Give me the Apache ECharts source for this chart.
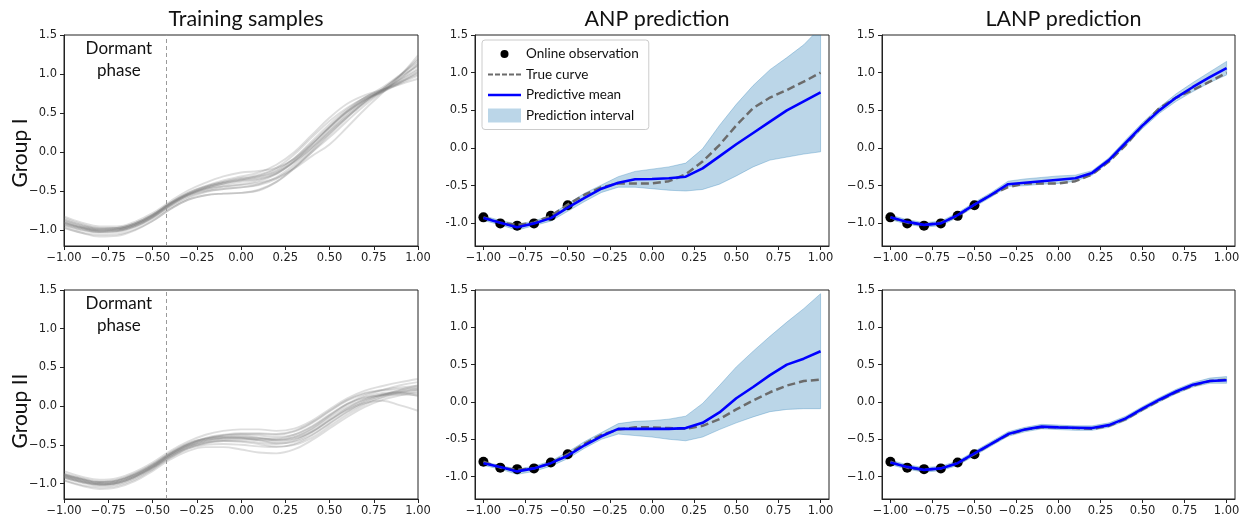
<!DOCTYPE html>
<html>
<head>
<meta charset="utf-8">
<script src="https://cdn.jsdelivr.net/npm/echarts@6/dist/echarts.min.js"></script>
<style>
  html, body { margin: 0; padding: 0; background: #ffffff; }
  #chart { width: 1250px; height: 525px; }
</style>
</head>
<body>
<div id="chart"></div>
<script>
// ---- shared x grid (step 0.1 over [-1, 1]) ----
const xGrid = [-1.0, -0.9, -0.8, -0.7, -0.6, -0.5, -0.4, -0.3, -0.2, -0.1, 0.0,
                0.1, 0.2, 0.3, 0.4, 0.5, 0.6, 0.7, 0.8, 0.9, 1.0];

// ---- tick labels ----
const xTicks = [-1.0, -0.75, -0.5, -0.25, 0.0, 0.25, 0.5, 0.75, 1.0];
const yTicks = [-1.0, -0.5, 0.0, 0.5, 1.0, 1.5];
const columnTitles = ['Training samples', 'ANP prediction', 'LANP prediction'];
const rowLabels = ['Group I', 'Group II'];
const dormantX = -0.42;

// ---- training sample curves, Group I ----
const trainG1 = [
  [-0.84,-0.92,-0.97,-0.97,-0.91,-0.80,-0.65,-0.52,-0.44,-0.38,-0.34,-0.31,-0.24,-0.08,0.14,0.36,0.55,0.70,0.80,0.90,1.00],
  [-0.92,-0.98,-1.02,-1.01,-0.95,-0.84,-0.69,-0.57,-0.50,-0.47,-0.45,-0.41,-0.32,-0.16,0.04,0.25,0.45,0.63,0.78,0.94,1.12],
  [-0.82,-0.90,-0.95,-0.95,-0.89,-0.78,-0.63,-0.49,-0.39,-0.31,-0.26,-0.24,-0.20,-0.09,0.10,0.32,0.52,0.67,0.77,0.88,0.98],
  [-0.96,-1.03,-1.08,-1.07,-1.00,-0.88,-0.73,-0.61,-0.55,-0.53,-0.52,-0.48,-0.38,-0.21,0.00,0.22,0.44,0.64,0.80,0.98,1.18],
  [-0.90,-0.97,-1.00,-0.99,-0.93,-0.82,-0.67,-0.55,-0.46,-0.40,-0.36,-0.32,-0.25,-0.12,0.06,0.27,0.47,0.65,0.79,0.93,1.07],
  [-0.87,-0.94,-0.98,-0.97,-0.91,-0.80,-0.65,-0.52,-0.43,-0.36,-0.31,-0.26,-0.16,0.00,0.22,0.44,0.62,0.73,0.80,0.87,0.94],
  [-0.93,-0.99,-1.02,-1.01,-0.95,-0.83,-0.68,-0.56,-0.49,-0.44,-0.41,-0.37,-0.28,-0.12,0.09,0.31,0.51,0.67,0.79,0.95,1.13],
  [-0.88,-0.95,-0.99,-0.98,-0.92,-0.81,-0.66,-0.54,-0.47,-0.44,-0.42,-0.39,-0.33,-0.21,-0.05,0.10,0.32,0.55,0.76,0.98,1.24],
  [-0.91,-0.97,-1.01,-1.00,-0.94,-0.83,-0.68,-0.55,-0.47,-0.42,-0.38,-0.35,-0.27,-0.11,0.10,0.32,0.52,0.68,0.78,0.89,1.02],
  [-0.97,-1.03,-1.06,-1.05,-0.99,-0.88,-0.73,-0.61,-0.55,-0.53,-0.52,-0.49,-0.38,-0.20,0.02,0.24,0.45,0.65,0.81,0.99,1.20],
  [-0.86,-0.93,-0.98,-0.97,-0.91,-0.80,-0.65,-0.53,-0.44,-0.38,-0.33,-0.29,-0.20,-0.03,0.19,0.40,0.57,0.70,0.79,0.92,1.05],
  [-0.90,-0.96,-1.00,-0.99,-0.93,-0.82,-0.67,-0.54,-0.45,-0.39,-0.35,-0.30,-0.22,-0.08,0.12,0.33,0.53,0.70,0.83,0.99,1.15],
  [-0.94,-1.00,-1.03,-1.02,-0.96,-0.85,-0.71,-0.59,-0.51,-0.47,-0.45,-0.42,-0.34,-0.19,0.00,0.19,0.40,0.60,0.77,0.90,1.03],
  [-0.89,-0.96,-1.00,-0.99,-0.93,-0.81,-0.66,-0.54,-0.46,-0.40,-0.36,-0.34,-0.27,-0.13,0.06,0.28,0.49,0.67,0.81,0.97,1.10]
];

// ---- training sample curves, Group II ----
const trainG2 = [
  [-0.88,-0.94,-0.98,-0.96,-0.88,-0.76,-0.61,-0.49,-0.41,-0.37,-0.35,-0.35,-0.36,-0.32,-0.21,-0.06,0.08,0.17,0.21,0.24,0.26],
  [-0.92,-0.98,-1.02,-1.00,-0.92,-0.80,-0.66,-0.55,-0.50,-0.49,-0.50,-0.52,-0.53,-0.49,-0.38,-0.23,-0.08,0.04,0.12,0.18,0.21],
  [-0.84,-0.91,-0.95,-0.93,-0.85,-0.73,-0.58,-0.46,-0.37,-0.32,-0.30,-0.30,-0.32,-0.29,-0.19,-0.04,0.10,0.20,0.26,0.31,0.35],
  [-0.96,-1.03,-1.07,-1.05,-0.97,-0.84,-0.69,-0.58,-0.53,-0.53,-0.56,-0.60,-0.61,-0.56,-0.44,-0.29,-0.14,-0.01,0.08,0.14,0.18],
  [-0.90,-0.96,-1.00,-0.98,-0.90,-0.78,-0.63,-0.51,-0.44,-0.41,-0.40,-0.41,-0.43,-0.40,-0.30,-0.15,-0.01,0.09,0.15,0.20,0.23],
  [-0.89,-0.95,-0.99,-0.97,-0.89,-0.77,-0.62,-0.50,-0.43,-0.40,-0.39,-0.41,-0.44,-0.42,-0.33,-0.18,-0.03,0.09,0.15,0.17,0.13],
  [-0.93,-0.99,-1.03,-1.01,-0.93,-0.81,-0.66,-0.54,-0.47,-0.44,-0.43,-0.43,-0.44,-0.40,-0.29,-0.13,0.02,0.12,0.17,0.18,0.16],
  [-0.87,-0.93,-0.97,-0.95,-0.87,-0.75,-0.60,-0.48,-0.42,-0.40,-0.41,-0.44,-0.48,-0.46,-0.37,-0.22,-0.07,0.06,0.14,0.21,0.27],
  [-0.91,-0.97,-1.01,-0.99,-0.91,-0.79,-0.64,-0.52,-0.45,-0.42,-0.41,-0.42,-0.42,-0.37,-0.26,-0.11,0.03,0.11,0.14,0.15,0.14],
  [-0.96,-1.02,-1.05,-1.03,-0.95,-0.82,-0.67,-0.55,-0.48,-0.45,-0.45,-0.47,-0.49,-0.45,-0.34,-0.19,-0.05,0.04,0.07,0.01,-0.06],
  [-0.88,-0.94,-0.98,-0.96,-0.88,-0.76,-0.61,-0.49,-0.42,-0.38,-0.37,-0.38,-0.40,-0.37,-0.27,-0.12,0.03,0.14,0.21,0.27,0.31],
  [-0.90,-0.97,-1.01,-0.99,-0.91,-0.79,-0.64,-0.52,-0.45,-0.42,-0.42,-0.44,-0.46,-0.43,-0.33,-0.18,-0.04,0.07,0.14,0.19,0.22],
  [-0.92,-0.98,-1.01,-0.99,-0.91,-0.79,-0.64,-0.53,-0.47,-0.45,-0.46,-0.49,-0.52,-0.50,-0.41,-0.26,-0.11,0.02,0.11,0.17,0.20],
  [-0.89,-0.95,-0.99,-0.97,-0.89,-0.77,-0.62,-0.50,-0.42,-0.38,-0.36,-0.36,-0.37,-0.33,-0.22,-0.07,0.07,0.16,0.20,0.22,0.24]
];

// ---- online observations ----
const obsX = [-1.0, -0.9, -0.8, -0.7, -0.6, -0.5];
const obsG1 = [-0.92, -1.00, -1.03, -1.00, -0.90, -0.76];
const obsG2 = [-0.80, -0.88, -0.90, -0.89, -0.81, -0.70];

// ---- true curves ----
const trueG1 = [-0.92,-0.99,-1.02,-0.99,-0.90,-0.75,-0.62,-0.52,-0.47,-0.47,-0.47,-0.44,-0.35,-0.18,0.04,0.30,0.53,0.67,0.77,0.88,1.00];
const trueG2 = [-0.80,-0.88,-0.91,-0.89,-0.82,-0.70,-0.56,-0.44,-0.37,-0.34,-0.34,-0.35,-0.36,-0.32,-0.23,-0.10,0.02,0.13,0.22,0.28,0.30];

// ---- ANP predictions ----
const anpMeanG1  = [-0.93,-0.99,-1.05,-1.00,-0.93,-0.79,-0.66,-0.54,-0.46,-0.415,-0.41,-0.40,-0.38,-0.27,-0.11,0.05,0.20,0.35,0.50,0.62,0.74];
const anpUpperG1 = [-0.90,-0.96,-1.01,-0.97,-0.89,-0.74,-0.60,-0.49,-0.38,-0.31,-0.28,-0.25,-0.20,-0.01,0.30,0.58,0.83,1.04,1.20,1.37,1.60];
const anpLowerG1 = [-0.96,-1.02,-1.09,-1.03,-0.97,-0.84,-0.71,-0.59,-0.52,-0.52,-0.54,-0.56,-0.57,-0.55,-0.48,-0.37,-0.25,-0.16,-0.12,-0.08,-0.05];

const anpMeanG2  = [-0.82,-0.87,-0.93,-0.89,-0.82,-0.72,-0.58,-0.46,-0.36,-0.36,-0.36,-0.36,-0.35,-0.28,-0.14,0.05,0.20,0.36,0.50,0.58,0.68];
const anpUpperG2 = [-0.80,-0.85,-0.90,-0.86,-0.79,-0.67,-0.53,-0.41,-0.29,-0.26,-0.25,-0.23,-0.19,-0.02,0.22,0.47,0.68,0.88,1.07,1.25,1.45];
const anpLowerG2 = [-0.85,-0.90,-0.97,-0.93,-0.86,-0.76,-0.62,-0.50,-0.43,-0.45,-0.47,-0.50,-0.52,-0.47,-0.37,-0.28,-0.20,-0.13,-0.10,-0.09,-0.09];

// ---- LANP predictions ----
const lanpMeanG1  = [-0.92,-0.98,-1.02,-1.00,-0.89,-0.75,-0.62,-0.48,-0.46,-0.44,-0.42,-0.40,-0.33,-0.16,0.07,0.30,0.50,0.67,0.81,0.94,1.06];
const lanpUpperG1 = [-0.89,-0.95,-0.99,-0.97,-0.86,-0.72,-0.59,-0.44,-0.41,-0.39,-0.37,-0.36,-0.30,-0.13,0.11,0.34,0.54,0.72,0.87,1.01,1.15];
const lanpLowerG1 = [-0.95,-1.01,-1.05,-1.03,-0.92,-0.78,-0.65,-0.51,-0.50,-0.48,-0.47,-0.44,-0.36,-0.19,0.03,0.26,0.46,0.62,0.75,0.87,0.97];

const lanpMeanG2  = [-0.81,-0.87,-0.91,-0.89,-0.82,-0.69,-0.56,-0.43,-0.37,-0.33,-0.34,-0.345,-0.35,-0.31,-0.22,-0.09,0.03,0.14,0.23,0.28,0.29];
const lanpUpperG2 = [-0.78,-0.84,-0.88,-0.86,-0.79,-0.66,-0.53,-0.40,-0.34,-0.30,-0.31,-0.32,-0.32,-0.28,-0.19,-0.06,0.06,0.17,0.26,0.32,0.34];
const lanpLowerG2 = [-0.84,-0.90,-0.94,-0.92,-0.85,-0.72,-0.59,-0.46,-0.40,-0.36,-0.37,-0.38,-0.38,-0.34,-0.25,-0.12,0.00,0.11,0.20,0.25,0.25];

// ---- styling ----
const SANS = 'Lato, "Open Sans", sans-serif';
const TICK_FONT = '"DejaVu Sans", sans-serif';
const INK = '#222222';
const BAND = 'rgba(31,119,180,0.30)';
const TRUE_GREY = '#6b6b6b';
const MEAN_BLUE = '#0000ff';

const pairs = (xs, ys) => xs.map((x, i) => [x, ys[i]]);
const minusSign = s => s.replace('-', '\u2212');

const grids = [
  { left: 64,  top: 35,  width: 354, height: 211 },
  { left: 475, top: 35,  width: 354, height: 211 },
  { left: 882, top: 35,  width: 353, height: 211 },
  { left: 64,  top: 290, width: 354, height: 209 },
  { left: 475, top: 290, width: 354, height: 209 },
  { left: 882, top: 290, width: 353, height: 209 }
].map(g => Object.assign({ show: true, borderColor: INK, borderWidth: 1, backgroundColor: 'transparent' }, g));

function makeXAxis(i) {
  const training = i % 3 === 0;
  return {
    type: 'value', gridIndex: i,
    min: training ? -1 : -1.05, max: training ? 1 : 1.05,
    splitLine: { show: false },
    axisLine: { show: true, onZero: false, lineStyle: { color: INK, width: 1 } },
    axisTick: { show: true, length: 4, customValues: xTicks, lineStyle: { color: INK } },
    axisLabel: {
      customValues: xTicks, margin: 6, fontSize: 11.5, color: INK, fontFamily: TICK_FONT,
      formatter: v => minusSign(v.toFixed(2))
    }
  };
}

function makeYAxis(i) {
  const training = i % 3 === 0;
  const anp = i % 3 === 1;
  return {
    type: 'value', gridIndex: i,
    min: training ? -1.2 : -1.3, max: 1.5,
    splitLine: { show: false },
    axisLine: { show: true, onZero: false, lineStyle: { color: INK, width: 1 } },
    axisTick: { show: true, length: 4, customValues: yTicks, lineStyle: { color: INK } },
    axisLabel: {
      customValues: yTicks, margin: 7, fontSize: 11.5, color: INK, fontFamily: TICK_FONT,
      formatter: v => anp ? v.toFixed(1) : minusSign(v.toFixed(1))
    }
  };
}

const series = [];

function addTraining(gi, curves) {
  curves.forEach((c, k) => {
    const s = {
      type: 'line', xAxisIndex: gi, yAxisIndex: gi, silent: true,
      data: pairs(xGrid, c), smooth: 0.4, showSymbol: false, symbol: 'none',
      lineStyle: { color: 'rgba(115,115,115,0.24)', width: 1.9 },
      z: 2
    };
    if (k === 0) {
      s.markLine = {
        silent: true, symbol: 'none', animation: false,
        label: { show: false },
        lineStyle: { type: [4, 3], color: '#9a9a9a', width: 1 },
        data: [{ xAxis: dormantX }]
      };
      s.markPoint = {
        silent: true, symbol: 'circle', symbolSize: 0,
        label: {
          show: true, position: 'inside', formatter: 'Dormant\nphase',
          fontFamily: SANS, fontSize: 17, lineHeight: 22, color: '#111'
        },
        data: [{ coord: [-0.69, 1.18] }]
      };
    }
    series.push(s);
  });
}

// shaded interval between lower and upper, drawn as one clipped polygon
function bandSeries(gi, upper, lower) {
  return {
    type: 'custom', name: 'Prediction interval', xAxisIndex: gi, yAxisIndex: gi, silent: true,
    clip: true, z: 1,
    itemStyle: { color: BAND },
    data: xGrid.map((x, i) => [x, lower[i], upper[i]]),
    encode: { x: 0, y: [1, 2] },
    renderItem: (params, api) => {
      if (params.dataIndex !== 0) return null;
      const top = xGrid.map((x, i) => api.coord([x, upper[i]]));
      const bottom = xGrid.map((x, i) => api.coord([x, lower[i]])).reverse();
      const cs = params.coordSys;
      return {
        type: 'polygon',
        shape: { points: top.concat(bottom) },
        style: { fill: BAND, stroke: BAND, lineWidth: 1 },
        clipPath: { type: 'rect', shape: { x: cs.x, y: cs.y, width: cs.width, height: cs.height } }
      };
    }
  };
}

function addPrediction(gi, obs, truth, mean, upper, lower) {
  series.push(bandSeries(gi, upper, lower));
  series.push({
    type: 'scatter', name: 'Online observation', xAxisIndex: gi, yAxisIndex: gi, silent: true,
    data: pairs(obsX, obs), symbolSize: 10, itemStyle: { color: '#000000', opacity: 1 }, z: 2
  });
  series.push({
    type: 'line', name: 'True curve', xAxisIndex: gi, yAxisIndex: gi, silent: true,
    data: pairs(xGrid, truth), symbol: 'none',
    lineStyle: { color: TRUE_GREY, width: 2.5, type: [8, 4] }, itemStyle: { color: TRUE_GREY }, z: 3
  });
  series.push({
    type: 'line', name: 'Predictive mean', xAxisIndex: gi, yAxisIndex: gi, silent: true,
    data: pairs(xGrid, mean), symbol: 'none',
    lineStyle: { color: MEAN_BLUE, width: 2.6 }, itemStyle: { color: MEAN_BLUE }, z: 4
  });
}

addTraining(0, trainG1);
addPrediction(1, obsG1, trueG1, anpMeanG1, anpUpperG1, anpLowerG1);
addPrediction(2, obsG1, trueG1, lanpMeanG1, lanpUpperG1, lanpLowerG1);
addTraining(3, trainG2);
addPrediction(4, obsG2, trueG2, anpMeanG2, anpUpperG2, anpLowerG2);
addPrediction(5, obsG2, trueG2, lanpMeanG2, lanpUpperG2, lanpLowerG2);

// legend icons drawn in a 33 x 14 box (corner points fix the box size)
const BOX = 'M0,0L0,0M33,14L33,14';
const ICON_DOT = 'path://' + BOX + 'M12.5,7A4,4,0,1,1,20.5,7A4,4,0,1,1,12.5,7Z';
const ICON_DASH = 'path://' + BOX +
  'M0,6L5,6L5,8L0,8ZM7,6L12,6L12,8L7,8ZM14,6L19,6L19,8L14,8ZM21,6L26,6L26,8L21,8ZM28,6L33,6L33,8L28,8Z';
const ICON_SOLID = 'path://' + BOX + 'M0,5.75L33,5.75L33,8.25L0,8.25Z';

const option = {
  animation: false,
  backgroundColor: '#ffffff',
  grid: grids,
  xAxis: [0, 1, 2, 3, 4, 5].map(makeXAxis),
  yAxis: [0, 1, 2, 3, 4, 5].map(makeYAxis),
  title: columnTitles.map((t, i) => ({
    text: t, left: grids[i].left + grids[i].width / 2, top: 3, textAlign: 'center',
    textStyle: { fontFamily: SANS, fontSize: 21.5, fontWeight: 'normal', color: '#111' }
  })),
  legend: {
    left: 482, top: 40, orient: 'vertical',
    itemWidth: 33, itemHeight: 14, itemGap: 6.5,
    padding: [7, 10, 7, 6],
    borderColor: '#cccccc', borderWidth: 1, borderRadius: 3,
    backgroundColor: 'rgba(255,255,255,0.85)',
    selectedMode: false,
    itemStyle: { borderWidth: 0, opacity: 1 },
    textStyle: { fontFamily: SANS, fontSize: 13.5, color: '#111' },
    data: [
      { name: 'Online observation', icon: ICON_DOT, itemStyle: { color: '#000000' } },
      { name: 'True curve', icon: ICON_DASH },
      { name: 'Predictive mean', icon: ICON_SOLID },
      { name: 'Prediction interval', icon: 'rect', itemStyle: { color: BAND } }
    ]
  },
  graphic: rowLabels.map((t, r) => ({
    type: 'text', x: 20, y: r === 0 ? 153 : 411, rotation: Math.PI / 2,
    style: {
      text: t, fontFamily: SANS, fontSize: 21, fill: '#111',
      align: 'center', verticalAlign: 'middle'
    }
  })),
  series: series
};

const chart = echarts.init(document.getElementById('chart'), null, { renderer: 'canvas' });
chart.setOption(option);
</script>
</body>
</html>
